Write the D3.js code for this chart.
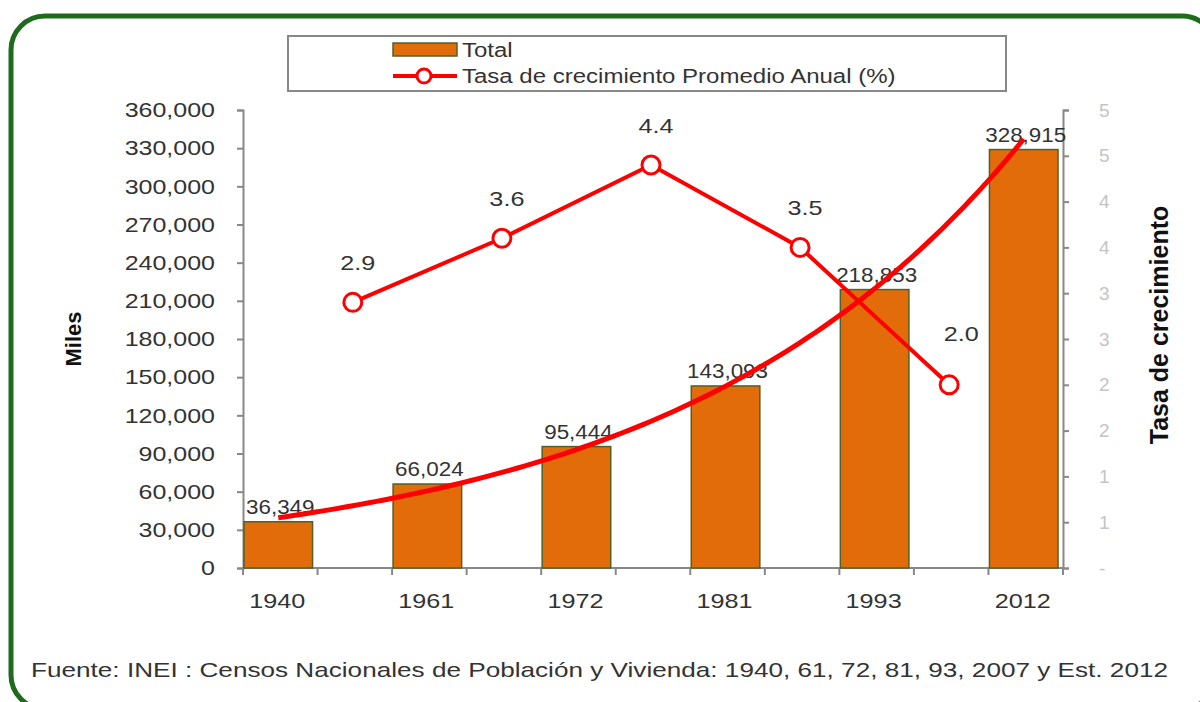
<!DOCTYPE html>
<html>
<head>
<meta charset="utf-8">
<script src="https://cdn.jsdelivr.net/npm/d3@7"></script>
<style>
  body { margin: 0; background: #fff; }
  svg { display: block; font-family: "Liberation Sans", Arial, sans-serif; }
</style>
</head>
<body>
<svg width="1200" height="702"></svg>
<script>
// census years (bars) and the growth rate of each intercensal period (line)
const years = ["1940", "1961", "1972", "1981", "1993", "2012"];
const totals = [36349, 66024, 95444, 143093, 218853, 328915];
const periods = ["1940-61", "1961-72", "1972-81", "1981-93", "1993-2012"];
const rates = [2.9, 3.6, 4.4, 3.5, 2.0];

const leftTicks = [0, 30000, 60000, 90000, 120000, 150000, 180000, 210000, 240000, 270000, 300000, 330000, 360000];
const rightTicks = [0, 0.5, 1, 1.5, 2, 2.5, 3, 3.5, 4, 4.5, 5];

const fuente = "Fuente: INEI : Censos Nacionales de Población y Vivienda: 1940, 61, 72, 81, 93, 2007 y Est. 2012";

const orange = "#e36c0a",
  barStroke = "#4f6228",
  red = "#ff0000",
  txt = "#333";

const svg = d3.select("svg");

// the source picture is a bit wide, so text gets stretched sideways
const stretch = (sel, k) =>
  sel.each(function() {
    const w = this.getComputedTextLength();
    d3.select(this).attr("textLength", w * k).attr("lengthAdjust", "spacingAndGlyphs");
  });

// outer rounded frame (runs off the right/bottom edge)
svg.append("rect")
  .attr("x", 11).attr("y", 16)
  .attr("width", 1205).attr("height", 693)
  .attr("rx", 34)
  .attr("fill", "#fff")
  .attr("stroke", "#1e6b1e")
  .attr("stroke-width", 5);

// categories: years interleaved with the periods between them
const cats = [];
years.forEach((y, i) => {
  cats.push(y);
  if (i < periods.length) cats.push(periods[i]);
});

const x = d3.scaleBand().domain(cats).range([243, 1063]).padding(0);
const y = d3.scaleLinear().domain([0, 360000]).range([568, 110]);
const y2 = d3.scaleLinear().domain([0, 5]).range([568, 110]);

// left axis
const gl = svg.append("g")
  .attr("transform", "translate(243,0)")
  .call(d3.axisLeft(y).tickValues(leftTicks).tickSize(6).tickPadding(22)
    .tickFormat(d3.format(",")));
gl.selectAll("text").attr("fill", txt).style("font-size", "21px");
gl.selectAll("line, path").attr("stroke", "#888").attr("stroke-width", 2);
stretch(gl.selectAll("text"), 1.19);

// right axis
const gr = svg.append("g")
  .attr("transform", "translate(1063,0)")
  .call(d3.axisRight(y2).tickValues(rightTicks).tickSize(6).tickPadding(30)
    .tickFormat(d => d === 0 ? "-" : Math.round(d)));
gr.selectAll("text").attr("fill", "#c4c4c4").style("font-size", "19px");
gr.selectAll("line, path").attr("stroke", "#888").attr("stroke-width", 2);

// bottom axis: ticks at category boundaries, labels only for years
const gx = svg.append("g");
gx.append("line")
  .attr("x1", 243).attr("x2", 1063).attr("y1", 568).attr("y2", 568)
  .attr("stroke", "#888").attr("stroke-width", 2);
gx.selectAll(".tk")
  .data(cats.concat(["end"]))
  .join("line")
  .attr("x1", (d, i) => i < cats.length ? x(d) : x.range()[1])
  .attr("x2", (d, i) => i < cats.length ? x(d) : x.range()[1])
  .attr("y1", 568).attr("y2", 575)
  .attr("stroke", "#888").attr("stroke-width", 2);
gx.selectAll("text")
  .data(years)
  .join("text")
  .attr("x", d => x(d) + x.bandwidth() / 2 - 3)
  .attr("y", 608)
  .attr("text-anchor", "middle")
  .attr("fill", txt)
  .style("font-size", "21px")
  .text(d => d);
stretch(gx.selectAll("text"), 1.2);

// bars
const bw = x.bandwidth() * 0.92;
svg.selectAll(".bar")
  .data(years)
  .join("rect")
  .attr("x", d => x(d) + (x.bandwidth() - bw) / 2 - 2)
  .attr("y", (d, i) => y(totals[i]))
  .attr("width", bw)
  .attr("height", (d, i) => y(0) - y(totals[i]))
  .attr("fill", orange)
  .attr("stroke", barStroke)
  .attr("stroke-width", 1.5);

const blab = svg.selectAll(".blab")
  .data(years)
  .join("text")
  .attr("x", d => x(d) + x.bandwidth() / 2)
  .attr("y", (d, i) => y(totals[i]) - 8)
  .attr("text-anchor", "middle")
  .attr("fill", txt)
  .style("font-size", "20px")
  .text((d, i) => d3.format(",")(totals[i]));
stretch(blab, 1.12);

// exponential trendline of the totals (least squares on ln values, like Excel)
const idx = years.map((d, i) => i);
const lnv = totals.map(v => Math.log(v));
const mx = d3.mean(idx), my = d3.mean(lnv);
const slope = d3.sum(idx, i => (i - mx) * (lnv[i] - my)) / d3.sum(idx, i => (i - mx) ** 2);
const icpt = my - slope * mx;
const xc = i => x(years[0]) + x.bandwidth() / 2 - 2 + i * 2 * x.step();
const trend = d3.range(0, years.length - 1 + 0.001, 0.05).map(t => [xc(t), y(Math.exp(icpt + slope * t))]);
svg.append("path")
  .attr("d", d3.line()(trend))
  .attr("fill", "none")
  .attr("stroke", red)
  .attr("stroke-width", 5);

// growth rate line
const px = d => x(d) + x.bandwidth() / 2 - 2;
svg.append("path")
  .attr("d", d3.line().x((d, i) => px(periods[i])).y(d => y2(d))(rates))
  .attr("fill", "none")
  .attr("stroke", red)
  .attr("stroke-width", 4);

svg.selectAll(".pt")
  .data(rates)
  .join("circle")
  .attr("cx", (d, i) => px(periods[i]))
  .attr("cy", d => y2(d))
  .attr("r", 9)
  .attr("fill", "#fff")
  .attr("stroke", red)
  .attr("stroke-width", 3);

const plab = svg.selectAll(".plab")
  .data(rates)
  .join("text")
  .attr("x", (d, i) => px(periods[i]) + (i === rates.length - 1 ? 12 : 5))
  .attr("y", (d, i) => y2(d) - (i === rates.length - 1 ? 44 : 32))
  .attr("text-anchor", "middle")
  .attr("fill", txt)
  .style("font-size", "21px")
  .text(d => d.toFixed(1));
stretch(plab, 1.2);

// axis titles
svg.append("text")
  .attr("transform", "translate(81,339) rotate(-90)")
  .attr("text-anchor", "middle")
  .attr("font-weight", "bold")
  .attr("fill", "#111")
  .style("font-size", "22px")
  .text("Miles");

svg.append("text")
  .attr("transform", "translate(1168,325) rotate(-90)")
  .attr("text-anchor", "middle")
  .attr("font-weight", "bold")
  .attr("fill", "#111")
  .style("font-size", "25px")
  .text("Tasa de crecimiento");

// legend
const lg = svg.append("g");
lg.append("rect")
  .attr("x", 288).attr("y", 36).attr("width", 718).attr("height", 55)
  .attr("fill", "#fff").attr("stroke", "#888").attr("stroke-width", 2);
lg.append("rect")
  .attr("x", 393).attr("y", 43).attr("width", 64).attr("height", 13)
  .attr("fill", orange).attr("stroke", barStroke).attr("stroke-width", 1.5);
lg.append("text")
  .attr("x", 462).attr("y", 57)
  .attr("fill", txt).style("font-size", "20px")
  .text("Total");
lg.append("line")
  .attr("x1", 393).attr("x2", 457).attr("y1", 76).attr("y2", 76)
  .attr("stroke", red).attr("stroke-width", 4);
lg.append("circle")
  .attr("cx", 424).attr("cy", 76).attr("r", 7)
  .attr("fill", "#fff").attr("stroke", red).attr("stroke-width", 3);
lg.append("text")
  .attr("x", 462).attr("y", 83)
  .attr("fill", txt).style("font-size", "20px")
  .text("Tasa de crecimiento Promedio Anual (%)");
stretch(lg.selectAll("text"), 1.2);

// source note
svg.append("text")
  .attr("x", 31).attr("y", 677)
  .attr("fill", txt)
  .attr("textLength", 1137)
  .attr("lengthAdjust", "spacingAndGlyphs")
  .style("font-size", "21px")
  .text(fuente);
</script>
</body>
</html>
